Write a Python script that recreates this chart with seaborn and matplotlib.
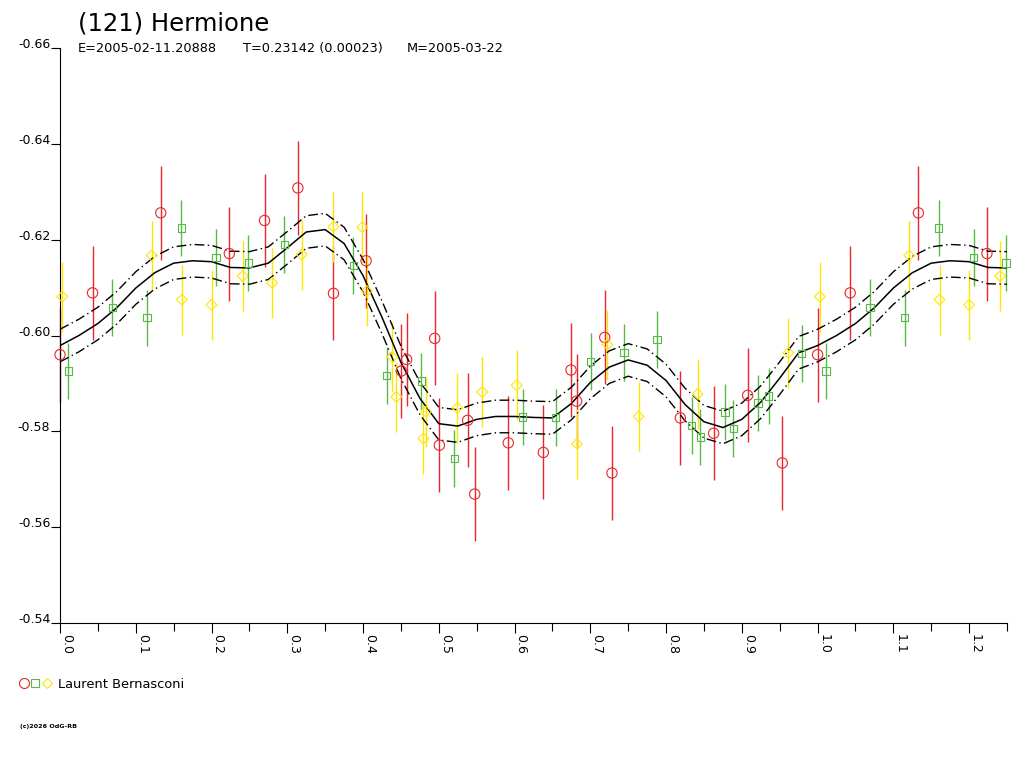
import numpy as np
import pandas as pd
import seaborn as sns
import matplotlib.pyplot as plt
from matplotlib.lines import Line2D
from matplotlib.legend_handler import HandlerTuple
from matplotlib.ticker import MultipleLocator, FormatStrFormatter

# Laurent Bernasconi sessions: phase, reduced magnitude
red_phase = [0.000, 0.043, 0.133, 0.2235, 0.270, 0.314, 0.361, 0.404, 0.4505, 0.4576,
             0.4946, 0.5007, 0.5381, 0.5474, 0.5917, 0.638, 0.6745, 0.682, 0.719, 0.7286,
             0.8188, 0.8628, 0.9077, 0.9534]
red_mag = [-0.5960, -0.6089, -0.6256, -0.6171, -0.6240, -0.6308, -0.6088, -0.6156, -0.5926, -0.5950,
           -0.5994, -0.5771, -0.5823, -0.5669, -0.5776, -0.5756, -0.5928, -0.5863, -0.5996, -0.5713,
           -0.5828, -0.5796, -0.5875, -0.5734]
red_err = 0.0098

green_phase = [0.011, 0.069, 0.115, 0.160, 0.206, 0.2486, 0.296, 0.387, 0.431, 0.4769,
               0.5205, 0.6107, 0.6543, 0.7005, 0.7445, 0.788, 0.8338, 0.8452, 0.8778, 0.8888,
               0.9213, 0.9354, 0.979]
green_mag = [-0.5926, -0.6059, -0.6037, -0.6224, -0.6163, -0.6151, -0.6190, -0.6146, -0.5916, -0.5905,
             -0.5743, -0.5830, -0.5829, -0.5946, -0.5965, -0.5992, -0.5812, -0.5788, -0.5840, -0.5806,
             -0.5859, -0.5874, -0.5962]
green_err = 0.0059

yellow_phase = [0.003, 0.121, 0.161, 0.200, 0.241, 0.280, 0.319, 0.361, 0.399, 0.405,
                0.4386, 0.4439, 0.4831, 0.4796, 0.5245, 0.5574, 0.6028, 0.6824, 0.7225, 0.7638,
                0.8417, 0.9614]
yellow_mag = [-0.6081, -0.6167, -0.6075, -0.6064, -0.6124, -0.6110, -0.6169, -0.6227, -0.6226, -0.6093,
              -0.5955, -0.5872, -0.5841, -0.5785, -0.5849, -0.5882, -0.5896, -0.5774, -0.5981, -0.5831,
              -0.5878, -0.5964]
yellow_err = 0.0073

# fitted curve read every 0.025 in phase (0 .. 1)
fit_mag = [-0.5979, -0.6000, -0.6025, -0.6058, -0.6099, -0.6131, -0.6151, -0.6156, -0.6154, -0.6142,
           -0.6141, -0.6151, -0.6183, -0.6216, -0.6221, -0.6192, -0.6125, -0.6038, -0.5944, -0.5869,
           -0.5816, -0.5811, -0.5825, -0.5831, -0.5831, -0.5829, -0.5828, -0.5858, -0.5902, -0.5934,
           -0.5949, -0.5938, -0.5906, -0.5856, -0.5820, -0.5808, -0.5825, -0.5861, -0.5911, -0.5964,
           -0.5979]
fit_band = 0.0034

RED, GREEN, YELLOW = '#e8262b', '#58b947', '#ffe600'


def fold(phase, mag):
    df = pd.DataFrame({'phase': phase, 'mag': mag})
    extra = df[df.phase < 0.25].copy()
    extra['phase'] += 1.0
    return pd.concat([df, extra], ignore_index=True)


sns.set_theme(style="white")
plt.rcParams['font.family'] = ['DejaVu Sans']
plt.rcParams['text.color'] = 'black'
plt.rcParams['xtick.color'] = 'black'
plt.rcParams['ytick.color'] = 'black'
plt.rcParams['axes.edgecolor'] = 'black'

fig = plt.figure(figsize=(10.24, 7.68), dpi=100)
ax = fig.add_axes([60 / 1024, 1 - 623 / 768, 947 / 1024, 575 / 768])

# fit curve and envelope
fit_phase = np.linspace(0, 1.25, 51)
fit_full = np.array(fit_mag + fit_mag[1:11])
curve = pd.DataFrame({'phase': fit_phase, 'mag': fit_full})
sns.lineplot(data=curve, x='phase', y='mag', color='black', lw=1.1, ax=ax, zorder=3)
dashdot = (0, (7, 2.5, 1, 2.5))
sns.lineplot(x=fit_phase, y=fit_full - fit_band, color='black', lw=1.0, ls=dashdot, ax=ax, zorder=3)
sns.lineplot(x=fit_phase, y=fit_full + fit_band, color='black', lw=1.0, ls=dashdot, ax=ax, zorder=3)

series = [
    (red_phase, red_mag, red_err, RED, 'o', 55),
    (green_phase, green_mag, green_err, GREEN, 's', 28),
    (yellow_phase, yellow_mag, yellow_err, YELLOW, 'D', 30),
]
for ph, mg, err, col, mk, size in series:
    df = fold(ph, mg)
    ax.vlines(df.phase, df.mag - err, df.mag + err, colors=col, lw=1, clip_on=False, zorder=2)
    sns.scatterplot(data=df, x='phase', y='mag', marker=mk, s=size, facecolors='none',
                    edgecolor=col, linewidth=0.8, ax=ax, clip_on=False, zorder=4)

ax.set_xlim(0, 1.25)
ax.set_ylim(-0.54, -0.66)
ax.set_xlabel('')
ax.set_ylabel('')

ax.set_yticks([-0.66, -0.64, -0.62, -0.60, -0.58, -0.56, -0.54])
ax.yaxis.set_major_formatter(FormatStrFormatter('%.2f'))
ax.xaxis.set_major_locator(MultipleLocator(0.1))
ax.xaxis.set_minor_locator(MultipleLocator(0.05))
ax.xaxis.set_major_formatter(FormatStrFormatter('%.1f'))

for s in ['top', 'right']:
    ax.spines[s].set_visible(False)
for s in ['left', 'bottom']:
    ax.spines[s].set_color('black')
    ax.spines[s].set_linewidth(0.8)

ax.tick_params(axis='y', direction='out', length=6.5, width=0.8, pad=0.5,
               labelsize=9, color='black', labelcolor='black', left=True)
ax.tick_params(axis='x', which='major', direction='out', length=7, width=0.8, pad=1,
               labelsize=9, color='black', labelcolor='black', bottom=True, labelrotation=-90)
ax.tick_params(axis='x', which='minor', direction='out', length=6, width=0.8,
               color='black', bottom=True)
plt.setp(ax.get_yticklabels(), va='baseline')
plt.setp(ax.get_xticklabels(), ha='left', va='top')

fig.text(78 / 1024, 1 - 30 / 768, '(121) Hermione', fontsize=17.5, va='baseline', ha='left')
fig.text(78 / 1024, 1 - 52 / 768, 'E=2005-02-11.20888', fontsize=9.3, va='baseline')
fig.text(243 / 1024, 1 - 52 / 768, 'T=0.23142 (0.00023)', fontsize=9.3, va='baseline')
fig.text(407 / 1024, 1 - 52 / 768, 'M=2005-03-22', fontsize=9.3, va='baseline')

# observer legend
h_r = Line2D([], [], ls='none', marker='o', ms=7.2, mfc='none', mec=RED, mew=0.8)
h_g = Line2D([], [], ls='none', marker='s', ms=5.3, mfc='none', mec=GREEN, mew=0.8)
h_y = Line2D([], [], ls='none', marker='D', ms=4.7, mfc='none', mec=YELLOW, mew=0.8)
leg = fig.legend(handles=[(h_r, h_g, h_y)], labels=['Laurent Bernasconi'],
                 handler_map={tuple: HandlerTuple(ndivide=None, pad=0)},
                 loc='center left', bbox_to_anchor=(18 / 1024, 1 - 684 / 768),
                 frameon=False, fontsize=9.4, handlelength=2.65, handletextpad=0.4,
                 borderpad=0, borderaxespad=0)
for t in leg.get_texts():
    t.set_color('black')

fig.text(20 / 1024, 1 - 728 / 768, '(c)2026 OdG-RB', fontsize=4.6, fontweight='bold',
         va='baseline', ha='left')

fig.savefig('out.png', dpi=100)
